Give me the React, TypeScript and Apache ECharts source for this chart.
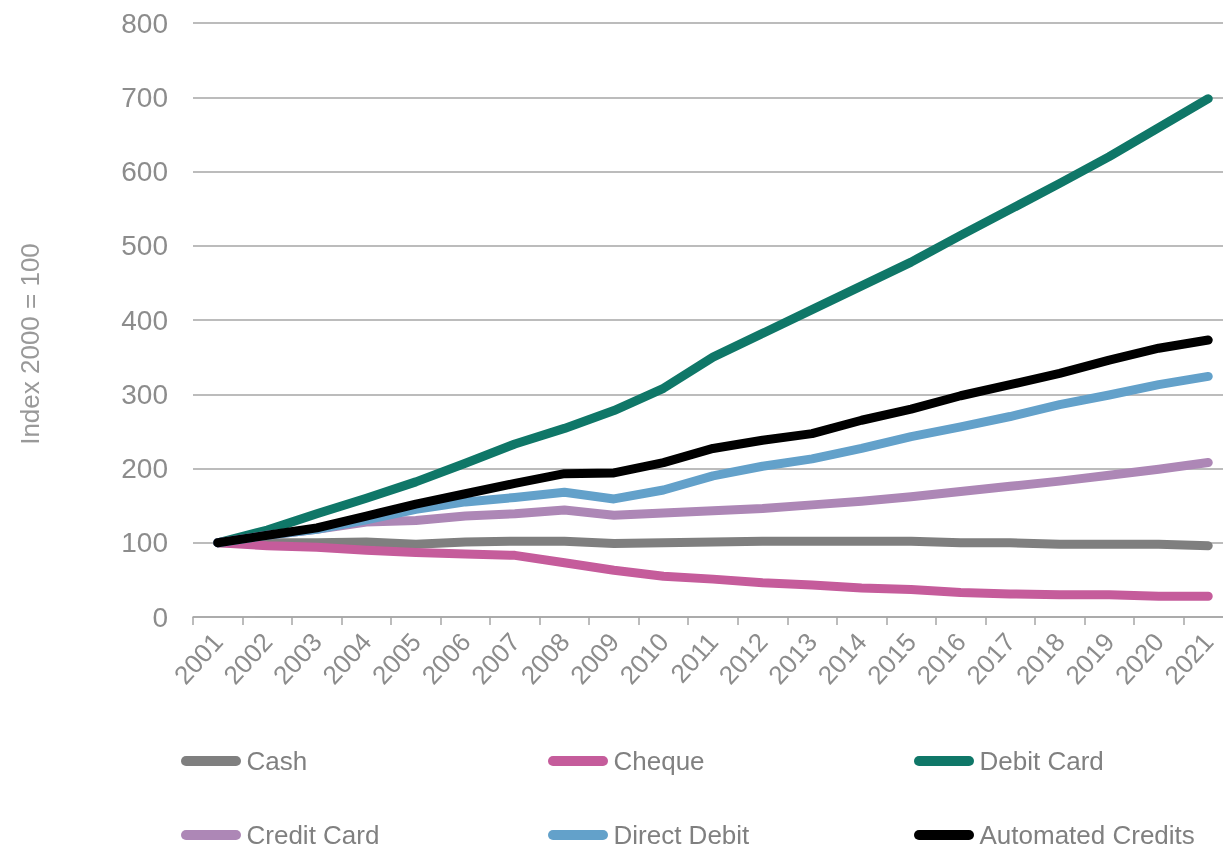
import React, { useEffect, useRef } from "react";
import * as echarts from "echarts";

const years = ["2001","2002","2003","2004","2005","2006","2007","2008","2009","2010","2011","2012","2013","2014","2015","2016","2017","2018","2019","2020","2021"];
const cash = [100,100,100,101,98,101,102,102,99,100,101,102,102,102,102,100,100,98,98,98,96];
const cheque = [100,96,94,90,87,85,83,73,63,55,51,46,43,39,37,33,31,30,30,28,28];
const debitCard = [100,117,139,160,182,207,233,254,278,308,350,382,414,446,478,514,549,584,620,659,698];
const creditCard = [100,110,118,128,130,136,139,144,137,140,143,146,151,156,162,169,176,183,191,199,208];
const directDebit = [100,110,118,131,145,155,161,168,159,171,190,203,213,227,243,256,270,286,299,313,324];
const automatedCredits = [100,110,120,136,152,166,180,193,194,208,227,238,247,265,280,298,313,328,346,362,373];

const seriesNames = ["Cash","Cheque","Debit Card","Credit Card","Direct Debit","Automated Credits"];
const seriesData = [cash, cheque, debitCard, creditCard, directDebit, automatedCredits];
const seriesColors = ["#7f7f7f","#c55c9b","#0f7768","#ad87b6","#63a1ca","#000000"];

const yAxisTitle = "Index 2000 = 100";

const FONT = "'Liberation Sans', Arial, sans-serif";

export default function App() {
  const ref = useRef<HTMLDivElement>(null);
  useEffect(() => {
    if (!ref.current) return;
    const chart = echarts.init(ref.current, null, { renderer: "svg" });
    const legendLeft = [181, 548, 914];
    const legendTop = [748, 822];
    const legends = seriesNames.map((name, i) => ({
      data: [name],
      left: legendLeft[i % 3],
      top: legendTop[Math.floor(i / 3)],
      orient: "horizontal",
      padding: 0,
      itemWidth: 61,
      itemHeight: 10,
      icon: "path://M5,0 H55 A5,5 0 0 1 55,10 H5 A5,5 0 0 1 5,0 Z",
      selectedMode: false,
      textStyle: { fontSize: 26, color: "#808080", fontFamily: FONT, lineHeight: 26 },
    }));
    chart.setOption({
      animation: false,
      grid: { left: 193, top: 23, width: 1040, height: 594, containLabel: false },
      legend: legends,
      xAxis: {
        type: "category",
        data: years,
        boundaryGap: true,
        axisLine: { lineStyle: { color: "#a6a6a6", width: 1.5 } },
        axisTick: { show: true, length: 8, lineStyle: { color: "#a6a6a6", width: 1.5 } },
        axisLabel: { rotate: 48, fontSize: 26, color: "#8c8c8c", margin: 20, fontFamily: FONT, interval: 0 },
      },
      yAxis: {
        type: "value",
        min: 0,
        max: 800,
        interval: 100,
        axisLine: { show: false },
        axisTick: { show: false },
        splitLine: { lineStyle: { color: "#a6a6a6", width: 1.5 } },
        axisLabel: { fontSize: 28, color: "#8c8c8c", margin: 25, fontFamily: FONT },
      },
      graphic: [
        {
          type: "text",
          x: 30,
          y: 344,
          rotation: Math.PI / 2,
          style: {
            text: yAxisTitle,
            fontSize: 26,
            fill: "#999999",
            fontFamily: FONT,
            textAlign: "center",
            textVerticalAlign: "middle",
          },
        },
      ],
      series: seriesNames.map((name, i) => ({
        name,
        type: "line",
        data: seriesData[i],
        showSymbol: false,
        symbol: "none",
        color: seriesColors[i],
        lineStyle: { width: 9, color: seriesColors[i], cap: "round", join: "round" },
        itemStyle: { color: seriesColors[i] },
        z: 2 + i,
      })),
    });
    return () => chart.dispose();
  }, []);
  return (
    <div style={{ position: "fixed", left: 0, top: 0, width: 1223, height: 849, overflow: "hidden" }}>
      <div ref={ref} style={{ width: 1250, height: 849 }} />
    </div>
  );
}
